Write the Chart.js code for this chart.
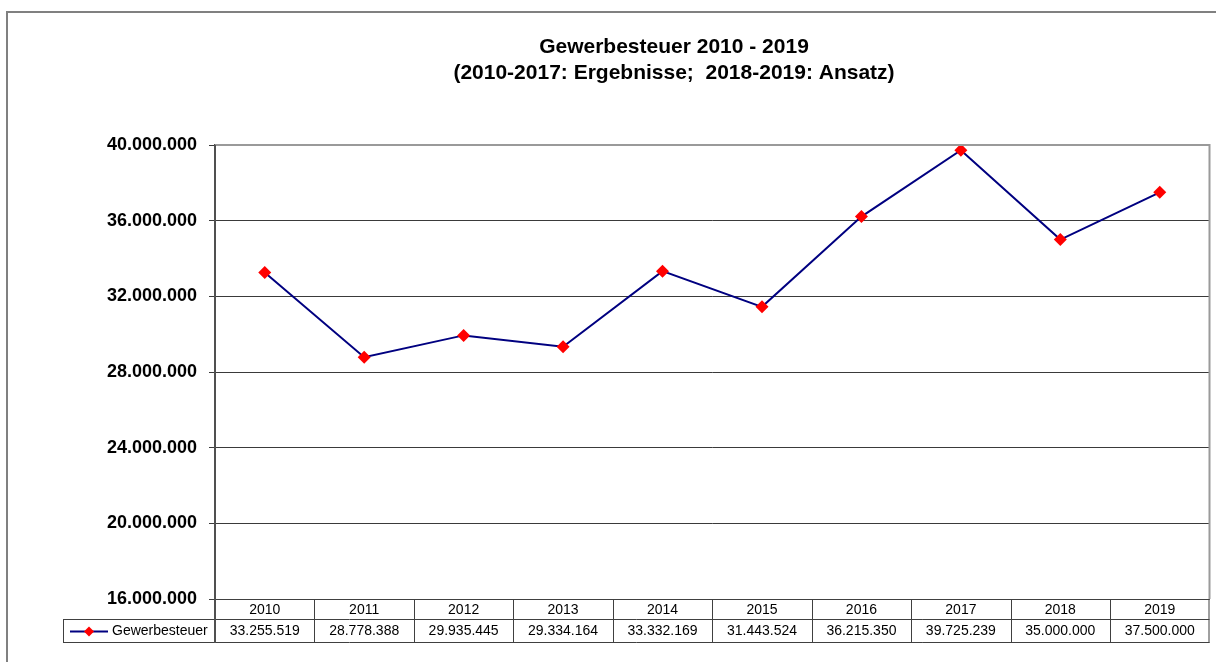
<!DOCTYPE html>
<html>
<head>
<meta charset="utf-8">
<script src="https://cdn.jsdelivr.net/npm/chart.js@4"></script>
<style>
html,body{margin:0;padding:0;background:#fff;}
canvas{display:block;}
</style>
</head>
<body>
<canvas id="c" width="1216" height="662"></canvas>
<script>
const titleLines = ["Gewerbesteuer 2010 - 2019", "(2010-2017: Ergebnisse;  2018-2019: Ansatz)"];
const years = ["2010","2011","2012","2013","2014","2015","2016","2017","2018","2019"];
const seriesName = "Gewerbesteuer";
const values = [33255519, 28778388, 29935445, 29334164, 33332169, 31443524, 36215350, 39725239, 35000000, 37500000];
const yTicks = [16000000, 20000000, 24000000, 28000000, 32000000, 36000000, 40000000];

const FONT = "'Liberation Sans', Arial, sans-serif";
function fmt(v){ return Math.round(v).toString().replace(/\B(?=(\d{3})+(?!\d))/g, "."); }

const LINE_COLOR = "#000080";
const MARK_COLOR = "#ff0000";

const decor = {
  id: "decor",
  afterDraw(chart){
    const ctx = chart.ctx;
    const ca = chart.chartArea;
    const xs = chart.scales.x;
    ctx.save();
    ctx.strokeStyle = "#808080";
    ctx.lineWidth = 2;
    ctx.beginPath();
    ctx.moveTo(7, 662); ctx.lineTo(7, 12); ctx.lineTo(1216, 12);
    ctx.stroke();
    ctx.fillStyle = "#000";
    ctx.font = "bold 21px " + FONT;
    ctx.textAlign = "center";
    ctx.textBaseline = "middle";
    ctx.fillText(titleLines[0], 674, 47);
    ctx.fillText(titleLines[1], 674, 73);
    ctx.strokeStyle = "#9a9a9a";
    ctx.lineWidth = 2;
    ctx.beginPath();
    ctx.moveTo(ca.left, ca.top); ctx.lineTo(ca.right, ca.top); ctx.lineTo(ca.right, ca.bottom);
    ctx.stroke();
    const n = years.length;
    const step = n > 1 ? (xs.getPixelForValue(1) - xs.getPixelForValue(0)) : (ca.right - ca.left);
    const rowTop = ca.bottom, rowMid = ca.bottom + 20, rowBot = ca.bottom + 43;
    const legLeft = 63;
    ctx.strokeStyle = "#404040";
    ctx.lineWidth = 1;
    ctx.beginPath();
    ctx.moveTo(ca.left - 6, rowTop + 0.5); ctx.lineTo(ca.right, rowTop + 0.5);
    ctx.moveTo(legLeft, rowMid + 0.5); ctx.lineTo(ca.right, rowMid + 0.5);
    ctx.moveTo(legLeft, rowBot + 0.5); ctx.lineTo(ca.right, rowBot + 0.5);
    ctx.moveTo(legLeft + 0.5, rowMid); ctx.lineTo(legLeft + 0.5, rowBot + 1);
    for (let i = 1; i < n; i++) {
      const bx = Math.round(xs.getPixelForValue(i) - step / 2) + 0.5;
      ctx.moveTo(bx, rowTop); ctx.lineTo(bx, rowBot + 1);
    }
    ctx.moveTo(ca.right - 0.5, rowTop); ctx.lineTo(ca.right - 0.5, rowBot + 1);
    ctx.stroke();
    ctx.strokeStyle = "#505050";
    ctx.lineWidth = 2;
    ctx.beginPath();
    ctx.moveTo(ca.left, ca.top); ctx.lineTo(ca.left, rowBot + 1);
    ctx.stroke();
    ctx.fillStyle = "#000";
    ctx.font = "14px " + FONT;
    ctx.textAlign = "center";
    ctx.textBaseline = "middle";
    for (let i = 0; i < n; i++) {
      const cx = xs.getPixelForValue(i);
      ctx.fillText(years[i], cx, (rowTop + rowMid) / 2 + 1);
      ctx.fillText(fmt(values[i]), cx, (rowMid + rowBot) / 2 + 1);
    }
    const ly = (rowMid + rowBot) / 2 + 1;
    ctx.strokeStyle = LINE_COLOR;
    ctx.lineWidth = 2;
    ctx.beginPath(); ctx.moveTo(70, ly); ctx.lineTo(108, ly); ctx.stroke();
    ctx.fillStyle = MARK_COLOR;
    ctx.beginPath();
    ctx.moveTo(89, ly - 5); ctx.lineTo(94, ly); ctx.lineTo(89, ly + 5); ctx.lineTo(84, ly); ctx.closePath();
    ctx.fill();
    ctx.fillStyle = "#000";
    ctx.textAlign = "left";
    ctx.fillText(seriesName, 112, ly);
    ctx.restore();
  }
};

new Chart(document.getElementById("c"), {
  type: "line",
  data: {
    labels: years,
    datasets: [{
      label: seriesName,
      data: values,
      borderColor: LINE_COLOR,
      backgroundColor: LINE_COLOR,
      borderWidth: 2,
      tension: 0,
      pointStyle: "rectRot",
      pointRadius: 6.5,
      pointBackgroundColor: MARK_COLOR,
      pointBorderColor: MARK_COLOR,
      pointBorderWidth: 0
    }]
  },
  options: {
    responsive: false,
    animation: false,
    layout: { padding: { left: 0, top: 145, right: 6, bottom: 63 } },
    plugins: { legend: { display: false }, title: { display: false }, tooltip: { enabled: false } },
    scales: {
      x: { type: "category", offset: true, display: false },
      y: {
        min: yTicks[0],
        max: yTicks[yTicks.length - 1],
        afterBuildTicks(s){ s.ticks = yTicks.map(v => ({ value: v })); },
        afterFit(s){ s.width = 215; },
        ticks: {
          callback: v => fmt(v),
          color: "#000",
          font: { family: FONT, size: 18, weight: "bold" },
          padding: 12
        },
        grid: { color: "#3a3a3a", lineWidth: 1, tickLength: 6, drawTicks: true },
        border: { display: true, color: "#505050", width: 2 }
      }
    }
  },
  plugins: [decor]
});
</script>
</body>
</html>
